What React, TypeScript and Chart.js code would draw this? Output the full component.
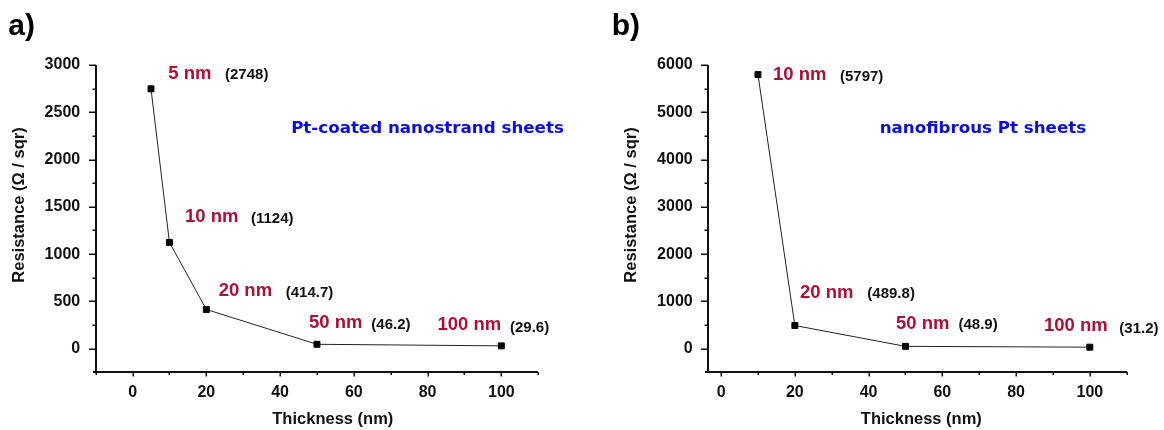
import React, { useEffect, useRef } from "react";
import { Chart, registerables } from "chart.js";

Chart.register(...registerables);

// ---------- Panel a) Pt-coated nanostrand sheets ----------
const thicknessA = [5, 10, 20, 50, 100];
const resistanceA = [2748, 1124, 414.7, 46.2, 29.6];
const nameLabelsA = ["5 nm", "10 nm", "20 nm", "50 nm", "100 nm"];
const valueLabelsA = ["(2748)", "(1124)", "(414.7)", "(46.2)", "(29.6)"];
const yTicksA = [0, 500, 1000, 1500, 2000, 2500, 3000];
const yMinorTicksA = [250, 750, 1250, 1750, 2250, 2750];
const xMinorTicksA = [-10, 10, 30, 50, 70, 90, 110];
const titleA = "Pt-coated nanostrand sheets";

// ---------- Panel b) nanofibrous Pt sheets ----------
const thicknessB = [10, 20, 50, 100];
const resistanceB = [5797, 489.8, 48.9, 31.2];
const nameLabelsB = ["10 nm", "20 nm", "50 nm", "100 nm"];
const valueLabelsB = ["(5797)", "(489.8)", "(48.9)", "(31.2)"];
const yTicksB = [0, 1000, 2000, 3000, 4000, 5000, 6000];
const yMinorTicksB = [500, 1500, 2500, 3500, 4500, 5500];
const xMinorTicksB = [10, 30, 50, 70, 90, 110];
const titleB = "nanofibrous Pt sheets";

// shared
const xTicks = [0, 20, 40, 60, 80, 100];
const xAxisTitle = "Thickness (nm)";
const yAxisTitle = "Resistance (\u03A9 / sqr)";

// ---------- layout / style (pixel offsets, not data) ----------
const H = 430;
const PLOT_TOP = 65;
const PLOT_BOTTOM = 372.3;
const ARIAL = '"Liberation Sans", Arial, Helvetica, sans-serif';
const DEJAVU = '"DejaVu Sans", Verdana, sans-serif';
const RED = "#ad1036";
const BLUE = "#0a0af0";
const INK = "#111111";

// [redDx, redDy, blackDx, blackDy] relative to each point's pixel
const labelOffsetsA = [
  [17.3, -15.1, 74, -14.3],
  [15.5, -25.1, 81.5, -23.3],
  [12.3, -19, 79.4, -17],
  [-8, -21.3, 54.4, -19.8],
  [-63.8, -20.7, 8.7, -17.6],
];
const labelOffsetsB = [
  [15, 0.4, 82, 2.4],
  [5.2, -32.6, 72.5, -32],
  [-9.4, -22.9, 53, -21.9],
  [-45.8, -21.7, 29.5, -18],
];

type Panel = {
  letter: string;
  left: number;
  width: number;
  plotLeft: number;
  plotRight: number;
  xMin: number;
  xMax: number;
  yMin: number;
  yMax: number;
  xs: number[];
  ys: number[];
  names: string[];
  values: string[];
  offsets: number[][];
  yTicks: number[];
  yMinor: number[];
  xMinor: number[];
  title: string;
  letterX: number;
};

const panels: Panel[] = [
  {
    letter: "a)",
    left: 0,
    width: 588,
    plotLeft: 95.7,
    plotRight: 538.2,
    xMin: -10,
    xMax: 110,
    yMin: -250,
    yMax: 3000,
    xs: thicknessA,
    ys: resistanceA,
    names: nameLabelsA,
    values: valueLabelsA,
    offsets: labelOffsetsA,
    yTicks: yTicksA,
    yMinor: yMinorTicksA,
    xMinor: xMinorTicksA,
    title: titleA,
    letterX: 8.3,
  },
  {
    letter: "b)",
    left: 588,
    width: 576,
    plotLeft: 120.2,
    plotRight: 538.7,
    xMin: -3.5,
    xMax: 110,
    yMin: -500,
    yMax: 6000,
    xs: thicknessB,
    ys: resistanceB,
    names: nameLabelsB,
    values: valueLabelsB,
    offsets: labelOffsetsB,
    yTicks: yTicksB,
    yMinor: yMinorTicksB,
    xMinor: xMinorTicksB,
    title: titleB,
    letterX: 23.7,
  },
];

function makeDecorations(p: Panel) {
  return {
    id: "decor" + p.letter,
    afterDraw(chart: any) {
      const { ctx, chartArea } = chart;
      const xs = chart.scales.x;
      const ys = chart.scales.y;
      const L = Math.round(chartArea.left);
      const B = Math.round(chartArea.bottom);
      const T = Math.round(chartArea.top);
      const R = Math.round(chartArea.right);
      ctx.save();

      // axis lines
      ctx.strokeStyle = INK;
      ctx.lineWidth = 2;
      ctx.beginPath();
      ctx.moveTo(L, T);
      ctx.lineTo(L, B);
      ctx.moveTo(L - 3, B);
      ctx.lineTo(R, B);
      ctx.stroke();

      // y tick marks
      ctx.lineWidth = 1.5;
      ctx.beginPath();
      p.yTicks.forEach((v) => {
        const py = Math.round(ys.getPixelForValue(v)) + 0.25;
        ctx.moveTo(L - 7, py);
        ctx.lineTo(L, py);
      });
      p.yMinor.forEach((v) => {
        const py = Math.round(ys.getPixelForValue(v)) + 0.25;
        ctx.moveTo(L - 3.5, py);
        ctx.lineTo(L, py);
      });
      // x tick marks
      xTicks.forEach((v) => {
        const px = Math.round(xs.getPixelForValue(v)) + 0.25;
        ctx.moveTo(px, B);
        ctx.lineTo(px, B + 4.5);
      });
      p.xMinor.forEach((v) => {
        const px = Math.round(xs.getPixelForValue(v)) + 0.25;
        ctx.moveTo(px, B);
        ctx.lineTo(px, B + 3);
      });
      ctx.stroke();

      // point annotations
      ctx.textBaseline = "middle";
      ctx.textAlign = "left";
      p.xs.forEach((xv, i) => {
        const px = xs.getPixelForValue(xv);
        const py = ys.getPixelForValue(p.ys[i]);
        const o = p.offsets[i];
        ctx.fillStyle = RED;
        ctx.font = `bold 18.5px ${ARIAL}`;
        ctx.fillText(p.names[i], px + o[0], py + o[1]);
        ctx.fillStyle = INK;
        ctx.font = `bold 15px ${ARIAL}`;
        ctx.fillText(p.values[i], px + o[2], py + o[3]);
      });

      // series title
      ctx.fillStyle = BLUE;
      ctx.font = `bold 16.7px ${DEJAVU}`;
      ctx.fillText(p.title, xs.getPixelForValue(43), 129);

      // axis titles
      ctx.fillStyle = INK;
      ctx.font = `bold 16.5px ${ARIAL}`;
      ctx.textAlign = "center";
      ctx.fillText(xAxisTitle, xs.getPixelForValue(54.3), 419.5);
      ctx.save();
      ctx.translate(chartArea.left - 76.5, 205);
      ctx.rotate(-Math.PI / 2);
      ctx.fillText(yAxisTitle, 0, 0);
      ctx.restore();

      // panel letter
      ctx.textAlign = "left";
      ctx.textBaseline = "alphabetic";
      ctx.font = `bold 30px ${ARIAL}`;
      ctx.fillStyle = "#000";
      ctx.fillText(p.letter, p.letterX, 35);

      ctx.restore();
    },
  };
}

function PanelChart({ p }: { p: Panel }) {
  const ref = useRef<HTMLCanvasElement | null>(null);
  useEffect(() => {
    if (!ref.current) return;
    const tickFont = { family: ARIAL, size: 16, weight: "bold" as const };
    const chart = new Chart(ref.current, {
      type: "scatter",
      data: {
        datasets: [
          {
            data: p.xs.map((x, i) => ({ x, y: p.ys[i] })),
            showLine: true,
            borderColor: "#222",
            borderWidth: 1,
            pointStyle: "rect",
            pointRadius: 4.2,
            pointBackgroundColor: "#000",
            pointBorderColor: "#000",
            pointBorderWidth: 1,
            tension: 0,
            clip: 10,
          },
        ],
      },
      options: {
        animation: false,
        responsive: false,
        maintainAspectRatio: false,
        devicePixelRatio: 1,
        layout: {
          padding: { left: 0, top: PLOT_TOP, right: p.width - p.plotRight, bottom: 0 },
        },
        plugins: {
          legend: { display: false },
          tooltip: { enabled: false },
        },
        scales: {
          x: {
            type: "linear",
            min: p.xMin,
            max: p.xMax,
            grid: { display: false, drawTicks: false },
            border: { display: false },
            ticks: {
              font: tickFont,
              color: INK,
              padding: 11,
              autoSkip: false,
              maxRotation: 0,
              callback: (v: any) => String(v),
            },
            afterBuildTicks: (s: any) => {
              s.ticks = xTicks.map((v) => ({ value: v }));
            },
            afterFit: (s: any) => {
              s.height = H - PLOT_BOTTOM;
            },
          },
          y: {
            type: "linear",
            min: p.yMin,
            max: p.yMax,
            grid: { display: false, drawTicks: false },
            border: { display: false },
            ticks: {
              font: tickFont,
              color: INK,
              padding: 15.5,
              autoSkip: false,
              callback: (v: any) => String(v),
            },
            afterBuildTicks: (s: any) => {
              s.ticks = p.yTicks.map((v) => ({ value: v }));
            },
            afterFit: (s: any) => {
              s.width = p.plotLeft;
            },
          },
        },
      },
      plugins: [makeDecorations(p)],
    } as any);
    return () => chart.destroy();
  }, [p]);
  return (
    <canvas
      ref={ref}
      width={p.width}
      height={H}
      style={{ position: "absolute", left: p.left, top: 0, width: p.width, height: H, display: "block" }}
    />
  );
}

export default function App() {
  return (
    <div
      style={{
        position: "absolute",
        left: 0,
        top: 0,
        width: 1164,
        height: H,
        background: "#fff",
        overflow: "hidden",
      }}
    >
      {panels.map((p) => (
        <PanelChart key={p.letter} p={p} />
      ))}
    </div>
  );
}
